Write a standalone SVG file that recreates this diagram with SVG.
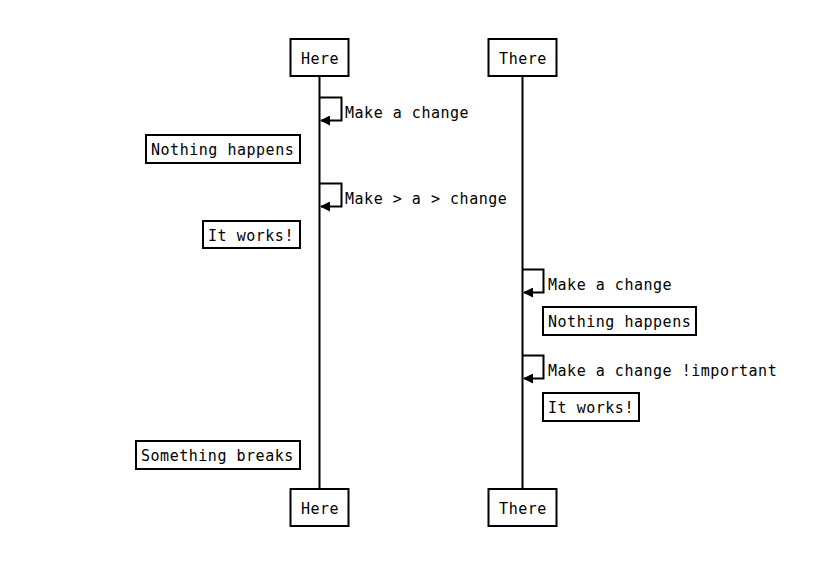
<svg xmlns="http://www.w3.org/2000/svg" width="838" height="562" viewBox="0 0 838 562">
<style>
.box{fill:#fff;stroke:#000;stroke-width:2}
.life{stroke:#000;stroke-width:2;fill:none}
.loop{stroke:#000;stroke-width:2;fill:none}
text{font-family:"DejaVu Sans Mono","Liberation Mono",monospace;font-size:15px;letter-spacing:0.52px;fill:#000}
.c{text-anchor:middle}
</style>
<defs>
<marker id="ah" markerWidth="10" markerHeight="10" refX="9" refY="5" orient="auto" markerUnits="userSpaceOnUse">
<path d="M0,0 L10,5 L0,10 z" fill="#000"/>
</marker>
</defs>
<g id="lifelines">
<line class="life" x1="319.5" y1="76" x2="319.5" y2="488"/>
<line class="life" x1="522.5" y1="76" x2="522.5" y2="488"/>
</g>
<g id="connectors">
<path class="loop" d="M320,97.5 H341.5 V120.5 H321" marker-end="url(#ah)"/>
<path class="loop" d="M320,183.5 H341.5 V206.5 H321" marker-end="url(#ah)"/>
<path class="loop" d="M523,269.5 H543.5 V292.5 H524" marker-end="url(#ah)"/>
<path class="loop" d="M523,355.5 H543.5 V378.5 H524" marker-end="url(#ah)"/>
</g>
<g id="labels">
<text x="345" y="118">Make a change</text>
<text x="345" y="204">Make &gt; a &gt; change</text>
<text x="548" y="290">Make a change</text>
<text x="548" y="376">Make a change !important</text>
</g>
<g id="here-top"><rect class="box" x="290.5" y="39" width="58" height="37"/><text class="c" x="320" y="64">Here</text></g>
<g id="there-top"><rect class="box" x="488.5" y="39" width="68" height="37"/><text class="c" x="523" y="64">There</text></g>
<g id="here-bottom"><rect class="box" x="290.5" y="489" width="58" height="37"/><text class="c" x="320" y="514">Here</text></g>
<g id="there-bottom"><rect class="box" x="488.5" y="489" width="68" height="37"/><text class="c" x="523" y="514">There</text></g>
<g id="note1"><rect class="box" x="146" y="135" width="154" height="28"/><text x="151" y="155">Nothing happens</text></g>
<g id="note2"><rect class="box" x="203" y="221" width="97" height="27"/><text x="208" y="241">It works!</text></g>
<g id="note3"><rect class="box" x="543" y="307" width="153" height="28"/><text x="548" y="327">Nothing happens</text></g>
<g id="note4"><rect class="box" x="543" y="393" width="96" height="28"/><text x="548" y="413">It works!</text></g>
<g id="note5"><rect class="box" x="136" y="441" width="164" height="28"/><text x="141" y="461">Something breaks</text></g>
</svg>
